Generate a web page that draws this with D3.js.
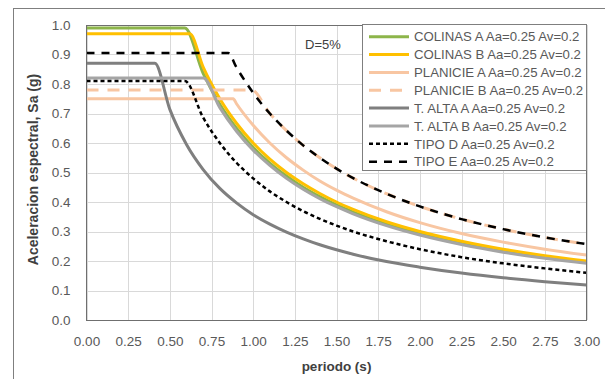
<!DOCTYPE html>
<html>
<head>
<meta charset="utf-8">
<script src="https://cdn.jsdelivr.net/npm/d3@7"></script>
<style>
  html, body { margin: 0; padding: 0; background: #fff; }
  svg { display: block; font-family: "Liberation Sans", Arial, sans-serif; }
</style>
</head>
<body>
<svg id="chart" width="605" height="379"></svg>
<script>
// Elastic design spectra, Aa = 0.25, Av = 0.2, damping 5 %
// Each series: [period (s), Sa (g)]
const colinasA   = [[0,0.99],[0.59,0.99],[0.7,0.836],[0.8,0.731],[0.9,0.65],[1.0,0.585],[1.1,0.532],[1.2,0.488],[1.3,0.45],[1.4,0.418],[1.5,0.39],[1.6,0.366],[1.8,0.325],[2.0,0.293],[2.25,0.26],[2.5,0.234],[2.75,0.213],[3.0,0.195]];
const colinasB   = [[0,0.97],[0.62,0.97],[0.7,0.857],[0.8,0.75],[0.9,0.667],[1.0,0.60],[1.1,0.545],[1.2,0.50],[1.3,0.462],[1.4,0.429],[1.5,0.40],[1.6,0.375],[1.8,0.333],[2.0,0.30],[2.25,0.267],[2.5,0.24],[2.75,0.218],[3.0,0.20]];
const planicieA  = [[0,0.75],[0.88,0.75],[0.9,0.733],[1.0,0.66],[1.1,0.60],[1.2,0.55],[1.3,0.508],[1.4,0.471],[1.5,0.44],[1.6,0.413],[1.8,0.367],[2.0,0.33],[2.25,0.293],[2.5,0.264],[2.75,0.24],[3.0,0.22]];
const planicieB  = [[0,0.78],[0.99,0.78],[1.1,0.70],[1.2,0.642],[1.3,0.592],[1.4,0.55],[1.5,0.513],[1.6,0.481],[1.8,0.428],[2.0,0.385],[2.25,0.342],[2.5,0.308],[2.75,0.28],[3.0,0.257]];
const tAltaA     = [[0,0.87],[0.41,0.87],[0.5,0.714],[0.6,0.595],[0.7,0.51],[0.8,0.446],[0.9,0.397],[1.0,0.357],[1.1,0.325],[1.2,0.298],[1.3,0.275],[1.4,0.255],[1.5,0.238],[1.6,0.223],[1.8,0.198],[2.0,0.179],[2.25,0.159],[2.5,0.143],[2.75,0.13],[3.0,0.119]];
const tAltaB     = [[0,0.82],[0.70,0.82],[0.8,0.72],[0.9,0.64],[1.0,0.576],[1.1,0.524],[1.2,0.48],[1.3,0.443],[1.4,0.411],[1.5,0.384],[1.6,0.36],[1.8,0.32],[2.0,0.288],[2.25,0.256],[2.5,0.23],[2.75,0.209],[3.0,0.192]];
const tipoD      = [[0,0.81],[0.59,0.81],[0.7,0.686],[0.8,0.60],[0.9,0.533],[1.0,0.48],[1.1,0.436],[1.2,0.40],[1.3,0.369],[1.4,0.343],[1.5,0.32],[1.6,0.30],[1.8,0.267],[2.0,0.24],[2.25,0.213],[2.5,0.192],[2.75,0.175],[3.0,0.16]];
const tipoE      = [[0,0.905],[0.85,0.905],[0.9,0.856],[1.0,0.77],[1.1,0.70],[1.2,0.642],[1.3,0.592],[1.4,0.55],[1.5,0.513],[1.6,0.481],[1.8,0.428],[2.0,0.385],[2.25,0.342],[2.5,0.308],[2.75,0.28],[3.0,0.257]];

const seriesNames = [
  "COLINAS A Aa=0.25 Av=0.2",
  "COLINAS B Aa=0.25 Av=0.2",
  "PLANICIE A Aa=0.25 Av=0.2",
  "PLANICIE B Aa=0.25 Av=0.2",
  "T. ALTA A Aa=0.25 Av=0.2",
  "T. ALTA B Aa=0.25 Av=0.2",
  "TIPO D Aa=0.25 Av=0.2",
  "TIPO E Aa=0.25 Av=0.2"
];
const seriesData = [colinasA, colinasB, planicieA, planicieB, tAltaA, tAltaB, tipoD, tipoE];

const xTicks = [0, 0.25, 0.5, 0.75, 1.0, 1.25, 1.5, 1.75, 2.0, 2.25, 2.5, 2.75, 3.0];
const yTicks = [0, 0.1, 0.2, 0.3, 0.4, 0.5, 0.6, 0.7, 0.8, 0.9, 1.0];

// line styles, in series order
const styles = [
  { color: "#8db54a", width: 3,   dash: null },
  { color: "#ffc000", width: 3,   dash: null },
  { color: "#f8c6a2", width: 3,   dash: null },
  { color: "#f8c6a2", width: 3,   dash: "12,9" },
  { color: "#7f7f7f", width: 3,   dash: null },
  { color: "#a5a5a5", width: 3,   dash: null },
  { color: "#000000", width: 2.5, dash: "4,3" },
  { color: "#000000", width: 2.5, dash: "8,7" }
];

const svg = d3.select("#chart");
const box = { left: 86.5, right: 586.5, top: 25, bottom: 320 };

const x = d3.scaleLinear().domain([0, 3]).range([box.left, box.right]);
const y = d3.scaleLinear().domain([0, 1]).range([box.bottom, box.top]);

// outer chart frame
svg.append("rect")
  .attr("x", 13.5).attr("y", 8.5)
  .attr("width", 620).attr("height", 400)
  .attr("fill", "none").attr("stroke", "#7f7f7f").attr("stroke-width", 1);

// gridlines
svg.append("g").selectAll("line").data(xTicks).join("line")
  .attr("x1", d => Math.round(x(d)) + 0.5).attr("x2", d => Math.round(x(d)) + 0.5)
  .attr("y1", box.top).attr("y2", box.bottom)
  .attr("stroke", "#d9d9d9").attr("stroke-width", 1);
svg.append("g").selectAll("line").data(yTicks).join("line")
  .attr("x1", box.left).attr("x2", box.right)
  .attr("y1", d => Math.round(y(d)) + 0.5).attr("y2", d => Math.round(y(d)) + 0.5)
  .attr("stroke", "#d9d9d9").attr("stroke-width", 1);

// axes (labels only)
const xAxis = svg.append("g")
  .attr("transform", `translate(0,${box.bottom})`)
  .call(d3.axisBottom(x).tickValues(xTicks).tickFormat(d3.format(".2f")).tickSize(0).tickPadding(16));
const yAxis = svg.append("g")
  .attr("transform", `translate(${box.left},0)`)
  .call(d3.axisLeft(y).tickValues(yTicks).tickFormat(d3.format(".1f")).tickSize(0).tickPadding(16));
[xAxis, yAxis].forEach(a => {
  a.select(".domain").remove();
  a.selectAll("text").attr("fill", "#595959").style("font-size", "13.5px")
    .style("font-family", "'Liberation Sans', Arial, sans-serif");
});

// series lines
const line = d3.line().x(d => x(d[0])).y(d => y(d[1])).curve(d3.curveMonotoneX);
svg.append("g").selectAll("path").data(seriesData).join("path")
  .attr("d", line)
  .attr("fill", "none")
  .attr("stroke", (d, i) => styles[i].color)
  .attr("stroke-width", (d, i) => styles[i].width)
  .attr("stroke-dasharray", (d, i) => styles[i].dash)
  .attr("stroke-linejoin", "round");

// plot area border
svg.append("rect")
  .attr("x", box.left).attr("y", box.top + 0.5)
  .attr("width", box.right - box.left).attr("height", box.bottom - box.top)
  .attr("fill", "none").attr("stroke", "#6f6f6f").attr("stroke-width", 1);

// damping note
svg.append("text")
  .attr("x", 305).attr("y", 48.5)
  .attr("fill", "#404040").style("font-size", "13px")
  .text("D=5%");

// legend
const legend = svg.append("g");
legend.append("rect")
  .attr("x", 362.5).attr("y", 24.5).attr("width", 224).attr("height", 146)
  .attr("fill", "#fff").attr("stroke", "#7f7f7f").attr("stroke-width", 1);
const rows = legend.selectAll("g.row").data(seriesNames).join("g")
  .attr("class", "row")
  .attr("transform", (d, i) => `translate(0,${36.7 + i * 17.85})`);
rows.append("line")
  .attr("x1", 369).attr("x2", 409).attr("y1", 0).attr("y2", 0)
  .attr("stroke", (d, i) => styles[i].color)
  .attr("stroke-width", (d, i) => styles[i].width)
  .attr("stroke-dasharray", (d, i) => styles[i].dash);
rows.append("text")
  .attr("x", 414).attr("y", 0).attr("dy", "0.36em")
  .attr("fill", "#595959").style("font-size", "13.2px")
  .text(d => d);

// axis titles
svg.append("text")
  .attr("x", (box.left + box.right) / 2).attr("y", 371)
  .attr("text-anchor", "middle")
  .attr("fill", "#404040").style("font-size", "13.5px").style("font-weight", "bold")
  .text("periodo (s)");
svg.append("text")
  .attr("transform", `translate(38,${(box.top + box.bottom) / 2 - 3}) rotate(-90)`)
  .attr("text-anchor", "middle")
  .attr("fill", "#404040").style("font-size", "14px").style("font-weight", "bold")
  .text("Aceleracion espectral, Sa (g)");
</script>
</body>
</html>
